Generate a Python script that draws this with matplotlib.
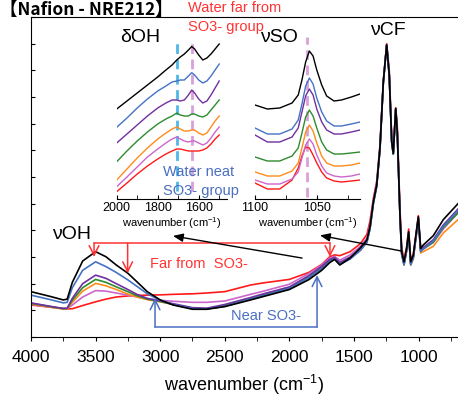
import matplotlib
matplotlib.use("Agg")
import matplotlib.pyplot as plt
from matplotlib.ticker import MultipleLocator

plt.rcParams['font.family'] = ['Liberation Sans', 'Noto Sans CJK JP', 'DejaVu Sans']
plt.rcParams['mathtext.fontset'] = 'custom'
plt.rcParams['mathtext.rm'] = 'Liberation Sans'

# ---------------- data ----------------
series_names = ["red", "magenta", "orange", "green", "purple", "blue", "black"]
colors = {"black": "#000000", "blue": "#4472C4", "purple": "#7030A0",
          "green": "#2E8B2E", "orange": "#FF8C1A", "magenta": "#CC66CC",
          "red": "#FF1A1A"}

wn = [4000, 3850, 3750, 3720, 3680, 3600, 3500, 3420, 3340, 3250,
      3180, 3100, 3000, 2900, 2750, 2640, 2500, 2300, 2200, 2000,
      1850, 1750, 1690, 1650, 1610, 1530, 1450, 1400, 1376, 1350,
      1324, 1299, 1273, 1247, 1227, 1208, 1196, 1177, 1165, 1144,
      1131, 1113, 1092, 1077, 1061, 1041, 1002, 984, 964, 886,
      809, 695]

abs_black = [1.70, 1.52, 1.39, 1.42, 2.05, 2.85, 3.20, 3.01, 2.70, 2.39,
             2.07, 1.70, 1.39, 1.20, 1.04, 1.04, 1.14, 1.39, 1.52, 1.78,
             2.15, 2.50, 2.78, 2.91, 2.70, 2.96, 3.35, 3.64, 4.14, 5.07,
             5.70, 7.09, 9.57, 10.95, 9.82, 7.32, 6.89, 8.57, 7.70, 4.57,
             3.20, 2.82, 3.34, 3.95, 2.82, 3.07, 4.51, 3.32, 3.45, 3.80,
             4.40, 5.00]
abs_red = [1.20, 1.12, 1.07, 1.05, 1.06, 1.18, 1.32, 1.42, 1.50, 1.54,
           1.56, 1.57, 1.58, 1.60, 1.62, 1.65, 1.70, 1.95, 2.03, 2.16,
           2.42, 2.72, 3.00, 3.08, 3.05, 3.20, 3.50, 3.85, 4.35, 5.20,
           5.85, 7.20, 9.60, 11.00, 10.00, 7.50, 6.95, 8.60, 7.90, 4.80,
           3.35, 2.90, 3.40, 4.05, 2.90, 3.10, 4.55, 3.30, 3.35, 3.60,
           4.10, 4.70]
abs_blue = [1.57, 1.40, 1.28, 1.30, 1.85, 2.50, 2.82, 2.64, 2.42, 2.14,
            1.90, 1.62, 1.38, 1.22, 1.06, 1.05, 1.15, 1.42, 1.55, 1.82,
            2.22, 2.56, 2.82, 2.92, 2.72, 2.92, 3.25, 3.55, 4.05, 5.00,
            5.65, 7.05, 9.55, 10.95, 9.80, 7.30, 6.85, 8.55, 7.65, 4.50,
            3.10, 2.70, 3.25, 3.85, 2.70, 2.97, 4.45, 3.20, 3.30, 3.60,
            4.15, 4.75]
abs_purple = [1.28, 1.15, 1.07, 1.08, 1.45, 2.00, 2.32, 2.20, 2.00, 1.78,
              1.60, 1.45, 1.35, 1.25, 1.10, 1.08, 1.22, 1.48, 1.62, 1.88,
              2.30, 2.65, 2.90, 2.98, 2.80, 3.00, 3.30, 3.60, 4.10, 5.05,
              5.70, 7.05, 9.55, 10.95, 9.80, 7.30, 6.87, 8.55, 7.68, 4.55,
              3.15, 2.75, 3.30, 3.90, 2.75, 3.00, 4.45, 3.25, 3.35, 3.65,
              4.20, 4.80]
abs_green = [1.26, 1.14, 1.06, 1.07, 1.38, 1.85, 2.16, 2.05, 1.88, 1.70,
             1.55, 1.42, 1.33, 1.22, 1.08, 1.06, 1.18, 1.44, 1.58, 1.84,
             2.25, 2.60, 2.85, 2.95, 2.76, 2.97, 3.28, 3.58, 4.08, 5.03,
             5.68, 7.05, 9.55, 10.95, 9.80, 7.30, 6.86, 8.55, 7.66, 4.52,
             3.12, 2.72, 3.27, 3.88, 2.72, 2.98, 4.42, 3.22, 3.30, 3.55,
             4.10, 4.65]
abs_orange = [1.24, 1.12, 1.05, 1.05, 1.30, 1.72, 2.01, 1.92, 1.78, 1.61,
              1.50, 1.40, 1.32, 1.22, 1.08, 1.06, 1.17, 1.43, 1.57, 1.83,
              2.24, 2.58, 2.84, 2.94, 2.75, 2.95, 3.25, 3.55, 4.05, 5.00,
              5.65, 7.05, 9.55, 10.95, 9.80, 7.30, 6.85, 8.55, 7.65, 4.50,
              3.10, 2.70, 3.22, 3.82, 2.70, 2.92, 4.38, 3.15, 3.20, 3.40,
              3.90, 4.40]
abs_magenta = [1.22, 1.12, 1.06, 1.06, 1.20, 1.50, 1.74, 1.72, 1.65, 1.57,
               1.50, 1.43, 1.38, 1.34, 1.30, 1.30, 1.35, 1.60, 1.72, 1.98,
               2.38, 2.70, 2.95, 3.02, 2.88, 3.08, 3.40, 3.70, 4.20, 5.10,
               5.75, 7.10, 9.58, 10.97, 9.85, 7.35, 6.90, 8.57, 7.75, 4.65,
               3.25, 2.80, 3.32, 3.95, 2.80, 3.02, 4.48, 3.25, 3.30, 3.55,
               4.05, 4.65]

# delta-OH inset
wn_oh = [2000, 1950, 1900, 1850, 1800, 1760, 1730, 1707, 1690, 1670,
         1650, 1634, 1620, 1600, 1580, 1560, 1540, 1520, 1500]
oh_black = [9.0, 9.8, 10.6, 11.4, 12.2, 12.9, 13.4, 13.9, 14.2, 14.5,
            14.9, 15.25, 15.0, 14.4, 13.9, 14.1, 14.5, 15.0, 15.5]
oh_blue = [7.17, 8.1, 9.1, 10.0, 10.8, 11.3, 11.7, 11.8, 11.9, 11.9,
           12.3, 12.63, 12.4, 11.9, 11.6, 11.8, 12.3, 12.9, 13.5]
oh_purple = [5.6, 6.5, 7.4, 8.3, 9.1, 9.6, 9.9, 9.9, 9.8, 9.9,
             10.4, 10.9, 10.6, 10.0, 9.6, 9.8, 10.4, 11.1, 11.8]
oh_green = [3.73, 4.8, 5.8, 6.7, 7.5, 8.0, 8.3, 8.6, 8.4, 8.3,
            8.3, 8.5, 8.5, 8.3, 8.2, 8.4, 8.9, 9.4, 9.9]
oh_orange = [1.9, 3.0, 4.1, 5.1, 6.0, 6.6, 7.0, 7.2, 7.0, 6.8,
             6.8, 6.9, 6.9, 6.6, 6.4, 6.6, 7.2, 7.8, 8.3]
oh_magenta = [1.23, 2.2, 3.2, 4.2, 5.0, 5.6, 6.0, 6.2, 6.0, 5.8,
              5.7, 5.8, 5.8, 5.6, 5.4, 5.6, 6.1, 6.7, 7.2]
oh_red = [0.73, 1.6, 2.5, 3.3, 4.0, 4.5, 4.8, 5.0, 5.0, 4.9,
          4.8, 4.8, 4.8, 4.8, 4.9, 5.1, 5.5, 6.0, 6.4]

# nu-SO inset
wn_so = [1100, 1090, 1080, 1070, 1065, 1062, 1059, 1056, 1053, 1050,
         1046, 1042, 1036, 1030, 1022, 1015]
so_black = [9.4, 9.0, 9.1, 9.6, 10.4, 11.9, 13.7, 14.8, 14.3, 12.9, 11.4, 10.3, 9.8, 9.9, 10.2, 10.5]
so_blue = [7.1, 6.5, 6.5, 7.0, 7.9, 9.5, 11.3, 12.1, 11.5, 10.1, 8.7, 7.8, 7.3, 7.3, 7.5, 7.7]
so_purple = [6.4, 5.7, 5.7, 6.2, 7.1, 8.7, 10.3, 11.0, 10.4, 9.0, 7.7, 6.9, 6.5, 6.5, 6.7, 6.9]
so_green = [4.2, 3.8, 3.8, 4.3, 5.1, 6.6, 8.2, 8.9, 8.3, 7.1, 5.7, 4.9, 4.5, 4.5, 4.6, 4.7]
so_orange = [2.7, 2.3, 2.3, 2.8, 3.6, 5.1, 6.7, 7.4, 6.8, 5.6, 4.3, 3.6, 3.3, 3.3, 3.4, 3.6]
so_magenta = [1.9, 1.5, 1.5, 2.0, 2.7, 4.1, 5.4, 6.0, 5.5, 4.4, 3.3, 2.6, 2.3, 2.2, 2.3, 2.5]
so_red = [1.6, 1.0, 1.0, 1.9, 3.1, 4.3, 5.2, 5.1, 4.4, 3.6, 2.7, 2.1, 1.8, 1.7, 1.8, 1.9]

main_series = {"black": abs_black, "blue": abs_blue, "purple": abs_purple,
               "green": abs_green, "orange": abs_orange, "magenta": abs_magenta,
               "red": abs_red}
oh_series = {"black": oh_black, "blue": oh_blue, "purple": oh_purple,
             "green": oh_green, "orange": oh_orange, "magenta": oh_magenta,
             "red": oh_red}
so_series = {"black": so_black, "blue": so_blue, "purple": so_purple,
             "green": so_green, "orange": so_orange, "magenta": so_magenta,
             "red": so_red}

main_xticks = [4000, 3500, 3000, 2500, 2000, 1500, 1000]
oh_xticks = [2000, 1800, 1600]
so_xticks = [1100, 1050]
line_far_oh = 1634
line_near_oh = 1707
line_so = 1058

RED = "#FF3333"
BLUE = "#4A6FC0"

# ---------------- figure ----------------
W, H = 458, 398
fig = plt.figure(figsize=(W / 100, H / 100), dpi=100)

def fx(px):
    return px / W

def fy(py):
    return (H - py) / H

ax = fig.add_axes([fx(31), fy(337), fx(458) - fx(31), fy(17) - fy(337)])
for name in series_names:
    ax.plot(wn, main_series[name], color=colors[name], lw=1.2, solid_joinstyle='round')
ax.set_xlim(4000, 695)
ax.set_ylim(0, 12)
ax.spines['right'].set_visible(False)
ax.xaxis.set_major_locator(MultipleLocator(500))
ax.xaxis.set_minor_locator(MultipleLocator(250))
ax.set_xticks(main_xticks)
ax.tick_params(axis='x', which='both', direction='out', length=3, labelsize=12.5, pad=6)
ax.yaxis.set_major_locator(MultipleLocator(1))
ax.tick_params(axis='y', direction='in', length=3, labelleft=False)
ax.set_xlabel("wavenumber (cm$^{-1}$)", fontsize=13, labelpad=6)

# annotations in main axes
lw_a = 1.1
ax.plot([3512, 1686], [3.52, 3.52], color=RED, lw=lw_a)
for x0, y1 in [(3512, 3.0), (3252, 2.39), (1686, 3.0)]:
    ax.annotate("", xy=(x0, y1), xytext=(x0, 3.52),
                arrowprops=dict(arrowstyle="->,head_length=0.7,head_width=0.35",
                                color=RED, lw=lw_a, shrinkA=0, shrinkB=0))
ax.text(2700, 2.73, "Far from  SO3-", color=RED, fontsize=10.5, ha='center', va='center')

ax.plot([3040, 1786], [0.375, 0.375], color=BLUE, lw=lw_a)
for x0, y1 in [(3040, 1.45), (1786, 2.32)]:
    ax.annotate("", xy=(x0, y1), xytext=(x0, 0.375),
                arrowprops=dict(arrowstyle="->,head_length=0.7,head_width=0.35",
                                color=BLUE, lw=lw_a, shrinkA=0, shrinkB=0))
ax.text(2180, 0.8, "Near SO3-", color=BLUE, fontsize=10.5, ha='center', va='center')

ax.annotate("", xy=(2901, 3.79), xytext=(1902, 2.96),
            arrowprops=dict(arrowstyle="-|>,head_length=0.6,head_width=0.25",
                            color='black', lw=1.0, shrinkA=0, shrinkB=0))
ax.annotate("", xy=(1763, 3.81), xytext=(1128, 3.22),
            arrowprops=dict(arrowstyle="-|>,head_length=0.6,head_width=0.25",
                            color='black', lw=1.0, shrinkA=0, shrinkB=0))

ax.text(3690, 3.85, "νOH", fontsize=14, ha='center', va='center')
ax.text(1240, 11.5, "νCF", fontsize=14, ha='center', va='center')

# inset: delta OH
axo = fig.add_axes([fx(116.7), fy(199), fx(227.4) - fx(116.7), fy(35) - fy(199)])
axo.patch.set_alpha(0)
axo.axvline(line_near_oh, ymin=0.05, ymax=0.96, color="#4FB8E8", lw=2, ls=(0, (3.5, 2)))
axo.axvline(line_far_oh, ymin=0.05, ymax=0.97, color="#D9A0D9", lw=2, ls=(0, (3.5, 2)))
for name in series_names:
    axo.plot(wn_oh, oh_series[name], color=colors[name], lw=1.0)
axo.set_xlim(2000, 1460)
axo.set_ylim(0, 16.4)
for s in ['top', 'right', 'left']:
    axo.spines[s].set_visible(False)
axo.set_yticks([])
axo.set_xticks(oh_xticks)
axo.xaxis.set_minor_locator(MultipleLocator(100))
axo.tick_params(axis='x', which='both', direction='in', length=3, labelsize=9, pad=2)
axo.set_xlabel("wavenumber (cm$^{-1}$)", fontsize=8, labelpad=1)

# inset: nu SO
axs = fig.add_axes([fx(255), fy(199), fx(360) - fx(255), fy(35) - fy(199)])
axs.patch.set_alpha(0)
axs.axvline(line_so, ymin=0.01, ymax=0.99, color="#D9A0D9", lw=2, ls=(0, (3.5, 2)))
for name in series_names:
    axs.plot(wn_so, so_series[name], color=colors[name], lw=1.0)
axs.set_xlim(1100, 1015)
axs.set_ylim(0, 16.4)
for s in ['top', 'right', 'left']:
    axs.spines[s].set_visible(False)
axs.set_yticks([])
axs.set_xticks(so_xticks)
axs.xaxis.set_minor_locator(MultipleLocator(25))
axs.tick_params(axis='x', which='both', direction='in', length=3, labelsize=9, pad=2)
axs.set_xlabel("wavenumber (cm$^{-1}$)", fontsize=8, labelpad=1)

# figure-level texts
fig.text(fx(140), fy(38), "δOH", fontsize=14, ha='center', va='center')
fig.text(fx(279), fy(38), "νSO", fontsize=14, ha='center', va='center')
fig.text(fx(188), fy(8), "Water far from", color=RED, fontsize=10.5, ha='left', va='center')
fig.text(fx(188), fy(27), "SO3- group", color=RED, fontsize=10.5, ha='left', va='center')
fig.text(fx(163), fy(172), "Water neat", color=BLUE, fontsize=10.5, ha='left', va='center')
fig.text(fx(163), fy(191), "SO3- group", color=BLUE, fontsize=10.5, ha='left', va='center')
fig.text(0.0, fy(1), "【Nafion - NRE212】", fontsize=12.5, fontweight='bold',
         ha='left', va='top', family=['Noto Sans CJK JP', 'DejaVu Sans'])

fig.savefig("out.png", dpi=100)
